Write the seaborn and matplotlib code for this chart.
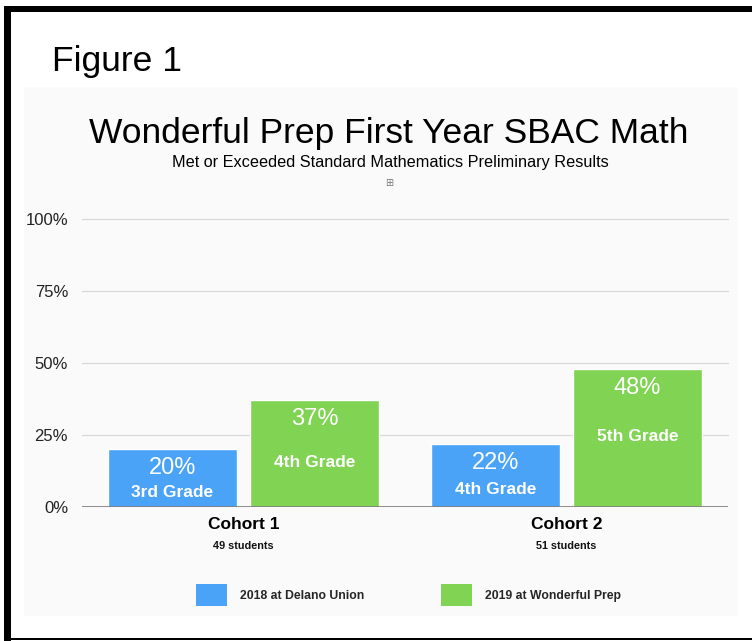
import pandas as pd
import numpy as np
import matplotlib.pyplot as plt
import seaborn as sns
from matplotlib.patches import Rectangle, Patch

# chart values
cohorts = ['Cohort 1', 'Cohort 2']
cohort_sizes = ['49 students', '51 students']
series = ['2018 at Delano Union', '2019 at Wonderful Prep']
values_2018 = [20, 22]
values_2019 = [37, 48]
grades_2018 = ['3rd Grade', '4th Grade']
grades_2019 = ['4th Grade', '5th Grade']
y_ticks = [0, 25, 50, 75, 100]

BLUE = '#4aa3f6'
GREEN = '#80d353'
W, H = 752, 641

sns.set_theme(style='white')
plt.rcParams['font.family'] = ['Liberation Sans', 'DejaVu Sans']

df = pd.DataFrame({
    'cohort': cohorts * 2,
    'year': [series[0]] * 2 + [series[1]] * 2,
    'value': values_2018 + values_2019,
})

fig = plt.figure(figsize=(W / 100, H / 100), dpi=100)
fig.patch.set_facecolor('white')

def px_rect(x0, y0, x1, y1, color, z=0):
    '''Rectangle given in image pixels (y measured from top).'''
    fig.patches.append(Rectangle((x0 / W, 1 - y1 / H), (x1 - x0) / W, (y1 - y0) / H,
                                 transform=fig.transFigure, facecolor=color,
                                 edgecolor='none', zorder=z))

# frame and faint slide panel
px_rect(24, 87, 738, 616, '#fafafa', z=-5)
px_rect(4, 6, W, 12, 'black', z=1)
px_rect(4, 6, 11, H, 'black', z=1)
px_rect(11, 638, W, 640, 'black', z=1)

# axes placed so 0% sits at y=507 and 100% at y=219
top_val = 101
ax_h = 288 * top_val / 100
ax = fig.add_axes([82 / W, (H - 507) / H, 646 / W, ax_h / H])
ax.set_facecolor('none')
ax.set_zorder(2)

sns.barplot(data=df, x='cohort', y='value', hue='year', palette=[BLUE, GREEN],
            width=0.88, gap=0.09, saturation=1, legend=False, ax=ax, zorder=3)

ax.set_ylim(0, top_val)
ax.set_xlim(-0.5, 1.5)
ax.set_yticks(y_ticks)
ax.set_yticklabels([f'{v}%' for v in y_ticks], fontsize=12, color='#222222')
ax.tick_params(axis='y', length=0, pad=10)
ax.tick_params(axis='x', length=0)
ax.set_xticklabels([])
ax.set_xlabel('')
ax.set_ylabel('')
for s in ax.spines.values():
    s.set_visible(False)
for v in y_ticks[1:]:
    ax.axhline(v, color='#d9d9d9', lw=0.9, zorder=1, clip_on=False)
ax.axhline(0, color='#7a7a7a', lw=1.2, zorder=4)

# labels inside the bars: percentage near the top, grade below it
grade_offsets = [[34.5, 36], [48, 52]]  # points below bar top
for k, (vals, grades) in enumerate([(values_2018, grades_2018), (values_2019, grades_2019)]):
    shift = -0.22 if k == 0 else 0.22
    for i, (v, g) in enumerate(zip(vals, grades)):
        ax.annotate(f'{v}%', xy=(i + shift, v), xytext=(0, -18), textcoords='offset points',
                    ha='center', va='baseline', color='white', fontsize=17, zorder=5)
        ax.annotate(g, xy=(i + shift, v), xytext=(0, -grade_offsets[k][i]),
                    textcoords='offset points', ha='center', va='baseline',
                    color='white', fontsize=12.5, fontweight='bold', zorder=5)

# category labels under the axis
for i, (c, n) in enumerate(zip(cohorts, cohort_sizes)):
    ax.annotate(c, xy=(i, 0), xycoords=('data', 'axes fraction'), xytext=(0, -15.8),
                textcoords='offset points', ha='center', va='baseline',
                fontsize=12.5, fontweight='bold', color='black', annotation_clip=False)
    ax.annotate(n, xy=(i, 0), xycoords=('data', 'axes fraction'), xytext=(0, -30.2),
                textcoords='offset points', ha='center', va='baseline',
                fontsize=7.8, fontweight='bold', color='#111111', annotation_clip=False)

# titles
fig.text(52 / W, 1 - 71 / H, 'Figure 1', fontsize=25.5, ha='left', va='baseline', color='black')
fig.text(389 / W, 1 - 143 / H, 'Wonderful Prep First Year SBAC Math', fontsize=25.5,
         ha='center', va='baseline', color='black')
fig.text(390 / W, 1 - 167 / H, 'Met or Exceeded Standard Mathematics Preliminary Results',
         fontsize=11.7, ha='center', va='baseline', color='black')
fig.text(389 / W, 1 - 183 / H, '\u229e', fontsize=7, ha='center', va='center',
         color='#777777', family=['DejaVu Sans'])

# legend
handles = [Patch(facecolor=BLUE, edgecolor='none'), Patch(facecolor=GREEN, edgecolor='none')]
fig.legend(handles, series, loc='center left', bbox_to_anchor=(196 / W, 1 - 595 / H),
           ncol=2, frameon=False, borderpad=0, borderaxespad=0,
           prop={'weight': 'bold', 'size': 8.8},
           handlelength=2.55, handleheight=2.45, handletextpad=1.05, columnspacing=6.3)

plt.savefig('out.png', dpi=100)
